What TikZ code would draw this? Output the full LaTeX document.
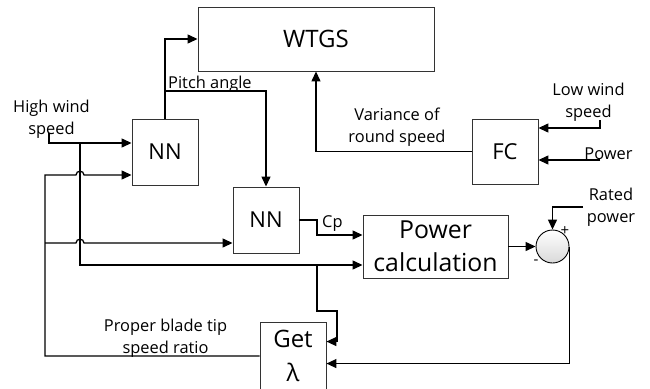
\documentclass[tikz,border=0pt]{standalone}
\usepackage{fontspec}
\setmainfont{Open Sans}
\usetikzlibrary{arrows.meta,calc,positioning}

\begin{document}
\begin{tikzpicture}[x=1pt,y=-1pt,every node/.style={inner sep=0pt}]
\tikzstyle{arrow}=[draw,line width=1.3pt,-{Triangle[length=10pt,width=9pt]}]
\tikzstyle{block}=[draw=black!80,line width=0.9pt,minimum width=66pt,minimum height=66pt,font=\fontsize{22}{28}\selectfont]
\tikzstyle{lbl}=[align=center,font=\fontsize{16.4}{22}\selectfont]
\useasboundingbox (0,0) rectangle (650,388);

\node[block,minimum width=236pt,minimum height=64pt,font=\fontsize{24}{30}\selectfont](wtgs) at (316,39){WTGS};
\node[block](nnA) at (165,152){NN};
\node[block](nnB) at (266,220){NN};
\node[block,minimum height=65pt](fc) at (505,151.5){FC};
\node[block,minimum width=145pt,minimum height=63pt,align=center,font=\fontsize{24.8}{33}\selectfont](pcalc) at (435.5,246.5){Power\\calculation};
\node[block,minimum height=68pt,align=center,font=\fontsize{24}{34}\selectfont](getl) at (293,356){Get\\λ};
\node[draw,circle,minimum size=33pt,line width=0.9pt,top color=white,bottom color=black!15](sum) at (552.5,246.5){};

\node[lbl,anchor=north](lbHigh) at (51.5,100){High wind\\speed};
\node[lbl,anchor=base west](lbPitch) at (168,88){Pitch angle};
\node[lbl,anchor=north](lbVar) at (397,108){Variance of\\round speed};
\node[lbl,anchor=north](lbLow) at (588.5,83){Low wind\\speed};
\node[lbl,anchor=base](lbPow) at (608.5,159){Power};
\node[lbl,anchor=base west](lbCp) at (322,227){Cp};
\node[lbl,anchor=north](lbRated) at (611,188){Rated\\power};
\node[lbl,anchor=north](lbTip) at (165.5,319){Proper blade tip\\speed ratio};
\node[font=\fontsize{15}{16}\selectfont](plus) at ($(sum.center)+(12.5,-15.5)$){+};
\node[font=\fontsize{15}{16}\selectfont](minus) at ($(sum.center)+(-16.5,16)$){-};

\coordinate (hw) at (49,133);
\coordinate (jA) at (80,143);
\coordinate (jB) at (80,265);
\coordinate (pa) at (165,91);
\coordinate (cp) at (317,235);
\coordinate (jC) at (317,265);
\coordinate (kC) at (337,311);
\coordinate (fbL) at (45,175);
\coordinate (fbM) at (45,243);
\coordinate (lw) at (600,120);
\coordinate (lwb) at (600,128);
\coordinate (pw) at (600,160);
\coordinate (rp) at (583,207);
\coordinate (gIn1) at ($(getl.north east)+(0,20)$);
\coordinate (gIn2) at ($(getl.north east)+(0,42)$);

\path[arrow](nnA.north)|-(wtgs.west);
\path[arrow](pa)-|(nnB.north);
\path[arrow](hw)|-(jA -| nnA.west);
\path[arrow](jA)--(jB)--(jB -| pcalc.west);
\path[arrow](nnB.east)-|(cp)--(cp -| pcalc.west);
\path[arrow](jC)|-(kC)|-(gIn1);

\path[arrow](getl.west)-|(fbL)--($(fbL -| jA)+(-4,0)$) .. controls +(0,-5) and +(0,-5) .. ++(8,0)--(fbL -| nnA.west);
\path[arrow](fbM)--($(fbM -| jA)+(-4,0)$) .. controls +(0,-5) and +(0,-5) .. ++(8,0)--(fbM -| nnB.west);

\path[arrow](fc.west)-|(wtgs.south);
\path[arrow](lw)--(lwb)--(lwb -| fc.east);
\path[arrow](pw)--(pw -| fc.east);

\path[arrow](pcalc.east)--(sum.west);
\path[arrow](rp)-|(sum.north);
\path[arrow](sum.east)|-(gIn2);
\end{tikzpicture}
\end{document}
